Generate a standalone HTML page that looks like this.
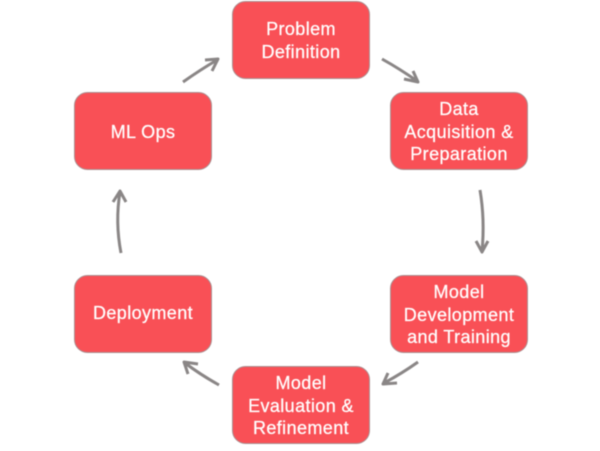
<!DOCTYPE html>
<html><head><meta charset="utf-8">
<style>
html,body{margin:0;padding:0;background:#fff}
body{width:600px;height:451px;position:relative;overflow:hidden}
svg{position:absolute;left:0;top:0;filter:blur(.4px)}
text{font-family:"Liberation Sans",sans-serif;font-size:18px;letter-spacing:.4px;fill:#fff;stroke:#fff;stroke-width:.25px;text-anchor:middle}
rect{fill:#f95056;stroke:#a98f90;stroke-width:1}
path{fill:none;stroke:#8a8686;stroke-width:3;stroke-linecap:butt;stroke-linejoin:round}
</style></head><body>
<svg width="600" height="451" viewBox="0 0 600 451" xmlns="http://www.w3.org/2000/svg">
<rect x="232.500" y="1.500" width="137" height="77" rx="13"/>
<rect x="390.500" y="92.500" width="137" height="77" rx="13"/>
<rect x="390.500" y="275.500" width="137" height="77" rx="13"/>
<rect x="232.500" y="366.500" width="137" height="77" rx="13"/>
<rect x="74.500" y="275.500" width="137" height="77" rx="13"/>
<rect x="74.500" y="92.500" width="137" height="77" rx="13"/>
<text x="301" y="35">Problem</text>
<text x="301" y="58">Definition</text>
<text x="459" y="115">Data</text>
<text x="459" y="138">Acquisition &amp;</text>
<text x="459" y="160">Preparation</text>
<text x="459" y="298">Model</text>
<text x="459" y="321">Development</text>
<text x="459" y="343">and Training</text>
<text x="301" y="389">Model</text>
<text x="301" y="412">Evaluation &amp;</text>
<text x="301" y="434">Refinement</text>
<text x="143" y="319">Deployment</text>
<text x="143" y="138">ML Ops</text>
<path d="M183 82Q200 70 217 60M205 60L218 59L212 71"/>
<path d="M382 59Q400 69 417 81M404 79L418 82L413 71"/>
<path d="M480 190Q485 220 482 251M476 241L482 252L488 241"/>
<path d="M418 362Q401 374 384 383M397 383L383 384L388 373"/>
<path d="M219 385Q201 375 185 363M198 364L184 362L188 374"/>
<path d="M121 253Q115 222 120 192M113 202L120 191L126 202"/>
</svg>
</body></html>
